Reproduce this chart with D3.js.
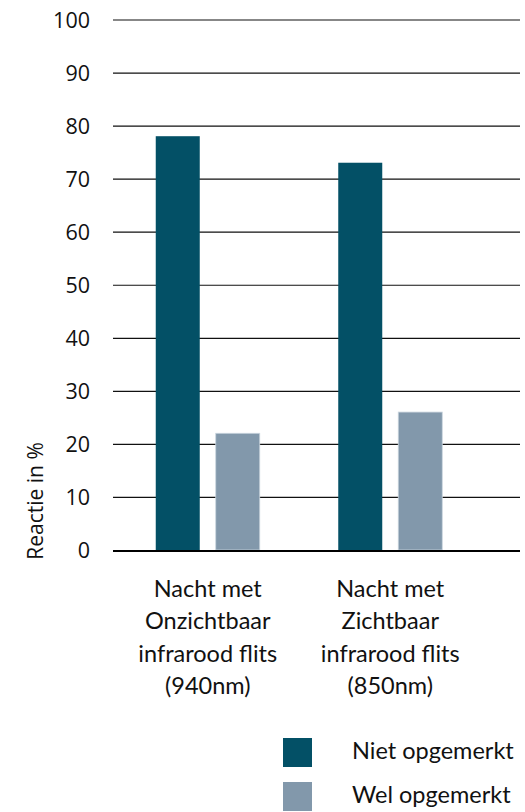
<!DOCTYPE html>
<html>
<head>
<meta charset="utf-8">
<script src="https://cdn.jsdelivr.net/npm/d3@7"></script>
<style>
  html, body { margin: 0; padding: 0; background: #fff; }
  svg { display: block; }
</style>
</head>
<body>
<svg id="chart" width="525" height="812"></svg>
<script>
// data
const categories = [
  ["Nacht met", "Onzichtbaar", "infrarood flits", "(940nm)"],
  ["Nacht met", "Zichtbaar", "infrarood flits", "(850nm)"]
]
const series = ["Niet opgemerkt", "Wel opgemerkt"]
const nietOpgemerkt = [78, 73]
const welOpgemerkt = [22, 26]
const yTicks = [0, 10, 20, 30, 40, 50, 60, 70, 80, 90, 100]
const colors = ["#035066", "#8298ab"]

const svg = d3.select("#chart")

const y = d3.scaleLinear().domain([0, 100]).range([550, 19.5])
const x = d3.scaleBand().domain([0, 1]).range([116.5, 481.5])
const gridLeft = 113, gridRight = 520

const tickFont = "'Open Sans', sans-serif"
const labelFont = "Lato, 'Open Sans', sans-serif"

// gridlines
svg.append("g")
  .selectAll("line")
  .data(yTicks.filter(d => d > 0))
  .enter().append("line")
  .attr("x1", gridLeft).attr("x2", gridRight)
  .attr("y1", d => y(d) + 0.5).attr("y2", d => y(d) + 0.5)
  .attr("stroke", "#111").attr("stroke-width", 1.2)

// y tick labels
svg.append("g")
  .selectAll("text")
  .data(yTicks)
  .enter().append("text")
  .attr("x", 90).attr("y", d => y(d) + 8)
  .attr("text-anchor", "end")
  .style("font-family", tickFont).style("font-size", "21.5px").attr("fill", "#111")
  .text(d => d)

// bars
const values = categories.map((c, i) => [nietOpgemerkt[i], welOpgemerkt[i]])
const groups = svg.append("g").selectAll("g")
  .data(values)
  .enter().append("g")
  .attr("transform", (d, i) => "translate(" + (x(i) + x.bandwidth() / 2 - 52) + ",0)")

const sub = d3.scaleBand().domain([0, 1]).range([0, 104]).paddingInner(16 / 60)

groups.selectAll("rect")
  .data(d => d)
  .enter().append("rect")
  .attr("x", (d, j) => sub(j))
  .attr("width", sub.bandwidth())
  .attr("y", d => y(d))
  .attr("height", d => y(0) - y(d))
  .attr("fill", (d, j) => colors[j])
  .attr("stroke", (d, j) => j === 1 ? "#c9d4de" : "none")
  .attr("stroke-width", 0.8)

// baseline
svg.append("line")
  .attr("x1", gridLeft).attr("x2", gridRight)
  .attr("y1", y(0) + 1).attr("y2", y(0) + 1)
  .attr("stroke", "#000").attr("stroke-width", 2)

// category labels
const cat = svg.append("g").selectAll("text")
  .data(categories)
  .enter().append("text")
  .attr("text-anchor", "middle")
  .style("font-family", labelFont).style("font-size", "23.5px").attr("fill", "#111")

cat.selectAll("tspan")
  .data((d, i) => d.map(t => ({ t: t, i: i })))
  .enter().append("tspan")
  .attr("x", d => x(d.i) + x.bandwidth() / 2)
  .attr("y", (d, k) => 597 + k * 32.3)
  .text(d => d.t)

// y axis title
svg.append("text")
  .attr("transform", "translate(43,501) rotate(-90)")
  .attr("text-anchor", "middle")
  .style("font-family", tickFont).style("font-size", "21px").attr("fill", "#111")
  .text("Reactie in %")

// legend
const legend = svg.append("g").selectAll("g")
  .data(series)
  .enter().append("g")
  .attr("transform", (d, i) => "translate(283," + (738 + i * 44) + ")")

legend.append("rect")
  .attr("width", 29).attr("height", 29)
  .attr("fill", (d, i) => colors[i])

legend.append("text")
  .attr("x", 69).attr("y", 21)
  .style("font-family", labelFont).style("font-size", "23.5px").attr("fill", "#111")
  .text(d => d)
</script>
</body>
</html>
